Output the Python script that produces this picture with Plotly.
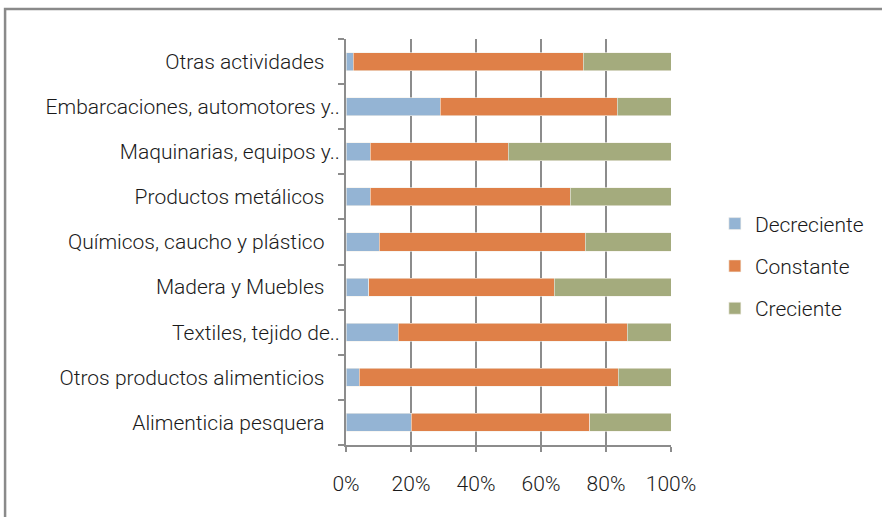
import plotly.graph_objects as go

# sector labels, bottom to top (Excel leaves a trailing space on the full ones)
sectores = [
    "Alimenticia pesquera\u00a0\u00a0\u00a0",
    "Otros productos alimenticios\u00a0\u00a0\u00a0",
    "Textiles, tejido de..",
    "Madera y Muebles\u00a0\u00a0\u00a0",
    "Químicos, caucho y plástico\u00a0\u00a0\u00a0",
    "Productos metálicos\u00a0\u00a0\u00a0",
    "Maquinarias, equipos y..",
    "Embarcaciones, automotores y..",
    "Otras actividades\u00a0\u00a0\u00a0",
]

# shares (%)
decreciente = [20.0, 4.1, 16.0, 7.0, 10.3, 7.4, 7.4, 29.0, 2.3]
constante = [55.0, 79.6, 70.5, 57.1, 63.3, 61.6, 42.5, 54.4, 70.7]
creciente = [25.0, 16.3, 13.5, 35.9, 26.4, 31.0, 50.1, 16.6, 27.0]

x_ticks = [0, 20, 40, 60, 80, 100]
x_tick_labels = ["0%", "20%", "40%", "60%", "80%", "100%"]

series = [
    ("Decreciente", decreciente, "#94B4D4"),
    ("Constante", constante, "#DF8048"),
    ("Creciente", creciente, "#A4AB7D"),
]

FONT = "Roboto"
GRAY = "#8c8c8c"
text_font = dict(family=FONT, size=21, color="#1a1a1a", weight=300)

fig = go.Figure()
for name, values, color in series:
    fig.add_trace(
        go.Bar(
            y=sectores,
            x=values,
            name=name,
            orientation="h",
            legendgroup=name,
            marker=dict(color=color, line=dict(color="#f4f0ea", width=0.6)),
        )
    )

fig.update_layout(
    width=882,
    height=517,
    barmode="stack",
    bargap=0.6,
    paper_bgcolor="white",
    plot_bgcolor="white",
    margin=dict(l=346, r=211, t=39, b=72),
    font=text_font,
    showlegend=True,
    legend=dict(
        x=1.135,
        xanchor="left",
        y=0.441,
        yanchor="middle",
        traceorder="grouped",
        tracegroupgap=12,
        font=text_font,
        itemwidth=30,
        bgcolor="rgba(0,0,0,0)",
    ),
    shapes=[
        dict(
            type="rect",
            xref="paper",
            yref="paper",
            x0=-1.049,
            x1=1.8,
            y0=-0.3,
            y1=1.074,
            line=dict(color="#8a8a8a", width=2.5),
            fillcolor="rgba(0,0,0,0)",
            layer="below",
        )
    ],
)

fig.update_xaxes(
    range=[0, 100],
    tickvals=x_ticks,
    ticktext=x_tick_labels,
    showgrid=True,
    gridcolor=GRAY,
    gridwidth=2,
    showline=True,
    linecolor=GRAY,
    linewidth=2,
    ticks="outside",
    ticklen=5,
    tickwidth=1.5,
    tickcolor=GRAY,
    ticklabelstandoff=14,
    zeroline=False,
    fixedrange=True,
)
fig.update_yaxes(
    type="category",
    showgrid=False,
    showline=True,
    linecolor=GRAY,
    linewidth=2,
    ticks="outside",
    tickson="boundaries",
    ticklen=6,
    tickwidth=1.5,
    tickcolor=GRAY,
    ticklabelstandoff=0,
    fixedrange=True,
)

# the page body has a default 8px margin; drop it so the figure sits at 0,0
fig.write_html(
    "out.html",
    config={"displayModeBar": False},
    post_script="document.body.style.margin='0';",
)
